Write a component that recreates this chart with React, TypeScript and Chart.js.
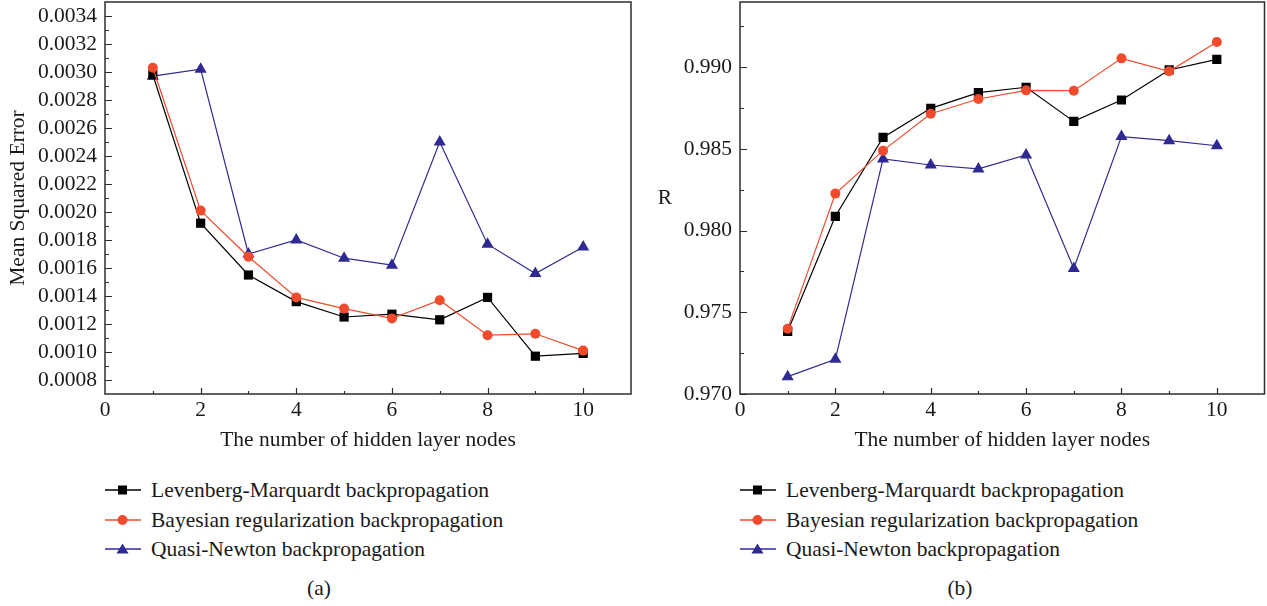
import React, { useEffect, useRef } from "react";
import { Chart, registerables } from "chart.js";

Chart.register(...registerables);

// ---------------- DATA ----------------
const hiddenNodes = [1, 2, 3, 4, 5, 6, 7, 8, 9, 10];

const seriesNames = [
  "Levenberg-Marquardt backpropagation",
  "Bayesian regularization backpropagation",
  "Quasi-Newton backpropagation",
];

// (a) Mean squared error
const mseLM = [0.00298, 0.00192, 0.00155, 0.00136, 0.00125, 0.00127, 0.00123, 0.00139, 0.00097, 0.00099];
const mseBR = [0.00303, 0.00201, 0.00168, 0.00139, 0.00131, 0.00124, 0.00137, 0.00112, 0.00113, 0.00101];
const mseQN = [0.00297, 0.00302, 0.0017, 0.0018, 0.00167, 0.00162, 0.0025, 0.00177, 0.00156, 0.00175];

// (b) R
const rLM = [0.97384, 0.98088, 0.98571, 0.98749, 0.98845, 0.98878, 0.98669, 0.988, 0.98984, 0.99049];
const rBR = [0.974, 0.98227, 0.9849, 0.98716, 0.98806, 0.98859, 0.98857, 0.99055, 0.98976, 0.99155];
const rQN = [0.97106, 0.97212, 0.98439, 0.98402, 0.98378, 0.98463, 0.97769, 0.98576, 0.98551, 0.9852];

// ticks
const xMajorTicks = [0, 2, 4, 6, 8, 10];
const xMinorTicks = [1, 3, 5, 7, 9];
const mseTicks = [0.0008, 0.001, 0.0012, 0.0014, 0.0016, 0.0018, 0.002, 0.0022, 0.0024, 0.0026, 0.0028, 0.003, 0.0032, 0.0034];
const mseMinorTicks = [0.0007, 0.0009, 0.0011, 0.0013, 0.0015, 0.0017, 0.0019, 0.0021, 0.0023, 0.0025, 0.0027, 0.0029, 0.0031, 0.0033, 0.0035];
const rTicks = [0.97, 0.975, 0.98, 0.985, 0.99];
const rMinorTicks = [0.9725, 0.9775, 0.9825, 0.9875, 0.9925];

const xRange = [0, 11];
const mseRange = [0.0007, 0.0035];
const rRange = [0.97, 0.994];

// ---------------- STYLE ----------------
const FONT = "'Liberation Serif', 'Times New Roman', serif";
const FS = 21.5;
const TEXT = "#1a1a1a";
const AXIS = "#2e2e2e";
const colors = ["#000000", "#ef4b2c", "#2f2a92"];
const markers = ["rect", "circle", "triangle"];
const radii = [6.5, 5, 7];

function makeFramePlugin(yMajor: number[], yMinor: number[]) {
  return {
    id: "frameTicks",
    afterDraw(chart: any) {
      const { ctx, chartArea: a, scales } = chart;
      ctx.save();
      ctx.strokeStyle = AXIS;
      ctx.lineWidth = 1.5;
      ctx.strokeRect(a.left, a.top, a.right - a.left, a.bottom - a.top);
      ctx.lineWidth = 1.2;
      ctx.beginPath();
      for (const v of yMajor) {
        const y = Math.round(scales.y.getPixelForValue(v)) + 0.5;
        ctx.moveTo(a.left, y);
        ctx.lineTo(a.left + 7, y);
      }
      for (const v of yMinor) {
        const y = Math.round(scales.y.getPixelForValue(v)) + 0.5;
        if (y < a.top + 1 || y > a.bottom - 1) continue;
        ctx.moveTo(a.left, y);
        ctx.lineTo(a.left + 4, y);
      }
      for (const v of xMajorTicks) {
        if (v === xRange[0]) continue;
        const x = Math.round(scales.x.getPixelForValue(v)) + 0.5;
        ctx.moveTo(x, a.bottom);
        ctx.lineTo(x, a.bottom - 6);
      }
      for (const v of xMinorTicks) {
        const x = Math.round(scales.x.getPixelForValue(v)) + 0.5;
        ctx.moveTo(x, a.bottom);
        ctx.lineTo(x, a.bottom - 3);
      }
      ctx.stroke();
      ctx.restore();
    },
  };
}

type PanelProps = {
  left: number;
  width: number;
  height: number;
  series: number[][];
  yTicks: number[];
  yMinor: number[];
  yRange: number[];
  digits: number;
  yTitle: string | null;
  axisWidth: number;
  padRight: number;
};

function Panel(p: PanelProps) {
  const ref = useRef<HTMLCanvasElement | null>(null);
  useEffect(() => {
    if (!ref.current) return;
    const datasets = p.series.map((vals, i) => ({
      label: seriesNames[i],
      data: hiddenNodes.map((n, k) => ({ x: n, y: vals[k] })),
      borderColor: colors[i],
      backgroundColor: colors[i],
      borderWidth: 1.2,
      pointStyle: markers[i],
      pointRadius: radii[i],
      pointBorderWidth: 0,
      pointHoverRadius: radii[i],
      tension: 0,
      order: i === 2 ? 3 : i === 0 ? 2 : 1,
    }));
    const chart = new Chart(ref.current, {
      type: "line",
      data: { datasets },
      plugins: [makeFramePlugin(p.yTicks, p.yMinor)],
      options: {
        animation: false,
        responsive: false,
        maintainAspectRatio: false,
        devicePixelRatio: 1,
        layout: { autoPadding: false, padding: { left: 0, right: p.padRight, top: 2, bottom: 0 } },
        plugins: { legend: { display: false }, tooltip: { enabled: false } },
        events: [],
        scales: {
          x: {
            type: "linear",
            min: xRange[0],
            max: xRange[1],
            grid: { display: false, drawTicks: false },
            border: { display: false },
            afterBuildTicks: (s: any) => {
              s.ticks = xMajorTicks.map((v) => ({ value: v }));
            },
            afterFit: (s: any) => {
              s.height = p.height - 394;
              s.paddingLeft = 0;
              s.paddingRight = 0;
            },
            ticks: {
              autoSkip: false,
              maxRotation: 0,
              padding: 3,
              color: TEXT,
              font: { family: FONT, size: FS },
              callback: (v: any) => String(v),
            },
            title: {
              display: true,
              text: "The number of hidden layer nodes",
              color: TEXT,
              font: { family: FONT, size: FS },
              padding: { top: 0, bottom: 17 },
            },
          },
          y: {
            type: "linear",
            min: p.yRange[0],
            max: p.yRange[1],
            grid: { display: false, drawTicks: false },
            border: { display: false },
            afterBuildTicks: (s: any) => {
              s.ticks = p.yTicks.map((v) => ({ value: v }));
            },
            afterFit: (s: any) => {
              s.width = p.axisWidth;
              s.paddingTop = 0;
              s.paddingBottom = 0;
            },
            ticks: {
              autoSkip: false,
              padding: 8,
              color: TEXT,
              font: { family: FONT, size: FS },
              callback: (v: any) => Number(v).toFixed(p.digits),
            },
            title: {
              display: !!p.yTitle,
              text: p.yTitle || "",
              color: TEXT,
              font: { family: FONT, size: FS },
              padding: { top: 5, bottom: 0 },
            },
          },
        },
      },
    } as any);
    return () => chart.destroy();
  }, []);
  return (
    <canvas
      ref={ref}
      width={p.width}
      height={p.height}
      style={{ position: "absolute", left: p.left, top: 0, width: p.width, height: p.height }}
    />
  );
}

function Marker({ kind, color }: { kind: string; color: string }) {
  if (kind === "rect") return <rect x={13} y={2.5} width={9} height={9} fill={color} />;
  if (kind === "circle") return <circle cx={17.5} cy={7} r={5} fill={color} />;
  return <polygon points="17.5,1.5 23.5,11.5 11.5,11.5" fill={color} />;
}

function Legend({ left }: { left: number }) {
  const rows = [490, 520, 549];
  return (
    <>
      {seriesNames.map((name, i) => (
        <div
          key={name}
          style={{
            position: "absolute",
            left,
            top: rows[i] - 13,
            height: 26,
            display: "flex",
            alignItems: "center",
            whiteSpace: "nowrap",
            fontFamily: FONT,
            fontSize: FS,
            color: TEXT,
          }}
        >
          <svg width={36} height={14} style={{ display: "block" }}>
            <line x1={0} y1={7} x2={36} y2={7} stroke={colors[i]} strokeWidth={1.4} />
            <Marker kind={markers[i]} color={colors[i]} />
          </svg>
          <span style={{ marginLeft: 10 }}>{name}</span>
        </div>
      ))}
    </>
  );
}

export default function App() {
  return (
    <div
      style={{
        position: "absolute",
        left: 0,
        top: 0,
        width: 1267,
        height: 606,
        background: "#ffffff",
        overflow: "hidden",
        fontFamily: FONT,
      }}
    >
      <Panel
        left={0}
        width={640}
        height={470}
        series={[mseLM, mseBR, mseQN]}
        yTicks={mseTicks}
        yMinor={mseMinorTicks}
        yRange={mseRange}
        digits={4}
        yTitle="Mean Squared Error"
        axisWidth={105}
        padRight={9}
      />
      <Panel
        left={634}
        width={633}
        height={470}
        series={[rLM, rBR, rQN]}
        yTicks={rTicks}
        yMinor={rMinorTicks}
        yRange={rRange}
        digits={3}
        yTitle={null}
        axisWidth={106}
        padRight={2.5}
      />
      <div
        style={{
          position: "absolute",
          left: 654,
          top: 184,
          width: 22,
          textAlign: "center",
          fontSize: FS,
          color: TEXT,
          lineHeight: "26px",
        }}
      >
        R
      </div>
      <Legend left={105} />
      <Legend left={740} />
      <div style={{ position: "absolute", left: 299, top: 575, width: 40, textAlign: "center", fontSize: FS, color: TEXT, lineHeight: "26px" }}>
        (a)
      </div>
      <div style={{ position: "absolute", left: 940, top: 575, width: 40, textAlign: "center", fontSize: FS, color: TEXT, lineHeight: "26px" }}>
        (b)
      </div>
    </div>
  );
}
